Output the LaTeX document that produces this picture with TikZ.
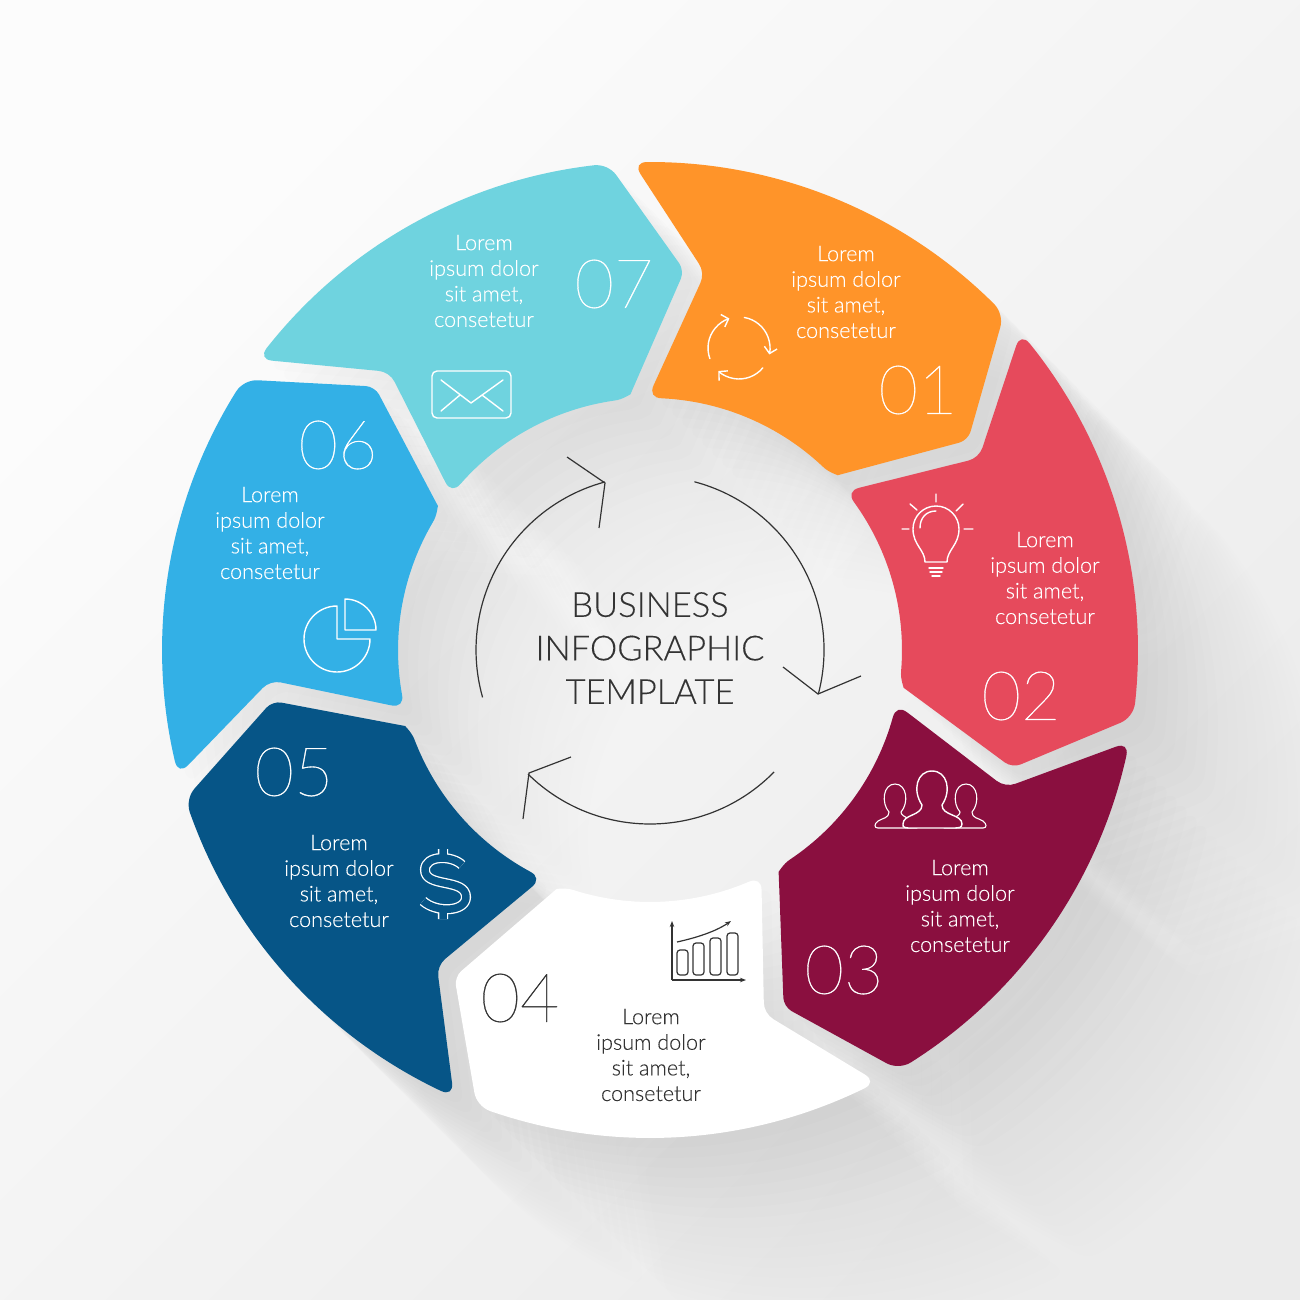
\documentclass[tikz,border=0pt]{standalone}
\usepackage{fontspec}
\usepackage{xcolor}
\usetikzlibrary{positioning}
\usetikzlibrary{arrows.meta}
\setmainfont[FakeBold=0.2]{Lato Light}
\newfontfamily\hairfont[FakeBold=0.5]{Lato Thin}
\definecolor{segA}{HTML}{FF9429}
\definecolor{segB}{HTML}{E64A5C}
\definecolor{segC}{HTML}{8A0F3F}
\definecolor{segD}{HTML}{FFFFFF}
\definecolor{segE}{HTML}{065587}
\definecolor{segF}{HTML}{33B0E6}
\definecolor{segG}{HTML}{6FD3DF}
\definecolor{inkdark}{HTML}{333333}
\tikzset{
	lorem/.style={align=center, font=\fontsize{21.6}{25.6}\selectfont},
	number/.style={font=\hairfont\fontsize{68}{68}\selectfont},
	title/.style={align=center, text=inkdark, font=\fontsize{34.5}{43.5}\selectfont},
	icon/.style={line width=1.4pt, line join=round, line cap=round},
	loopline/.style={inkdark, line width=1.2pt},
}
\newcommand{\segpath}{(22.75,-426.45) -- (-9.5,-475.9) .. controls (-14,-483) and (-11.4,-487.8) .. (-90.35:488) arc[start angle=-90.35, end angle=-45.15, radius=488] .. controls (350,-339.9) and (352.5,-330.5) .. (350.2,-322.4) [rounded corners=9pt] -- (-33.4:381) -- (196.3,-177.1) [sharp corners] .. controls (188.2,-174.9) and (178.8,-177.4) .. (-46.68:252) arc[start angle=-46.68, end angle=-87.32, radius=252] .. controls (3.4,-251.9) and (0.1,-257.1) .. (3.6,-264.7) -- (50.4,-367) .. controls (53.2,-373) and (52.6,-380.7) .. (49,-386.2) -- cycle}
\begin{document}
\begin{tikzpicture}[x=1pt, y=-1pt]
	\useasboundingbox (0,0) rectangle (1300,1300);
	\shade[top color=white!99!black, bottom color=white!92!black, shading angle=45] (0,0) rectangle (1300,1300);
	% long shadow
	\foreach \i in {0,...,6} {
		\foreach \t in {10,20,...,230} {
			\pgfmathsetmacro{\op}{0.009*(1-\t/245)}
			\begin{scope}[shift={(650+\t,650+\t)}, rotate=-\i*51.43]
				\fill[black, opacity=\op] \segpath;
			\end{scope}
		}
	}
	% ring
	\foreach \i/\col in {0/segA,1/segB,2/segC,3/segD,4/segE,5/segF,6/segG} {
		\begin{scope}[shift={(650,650)}, rotate=-\i*51.43]
			\fill[\col] \segpath;
		\end{scope}
	}
	% texts
	\foreach \n/\tx/\ty/\nx/\ny/\lab/\tc in {1/846/292/918/390/01/white, 2/1045/578/1021/696/02/white, 3/960/906/844/970/03/white, 4/651/1055/520/998/04/inkdark, 5/339/881/294/772/05/white, 6/270/533/338/445/06/white, 7/484/281/614/284/07/white} {
		\node[lorem, text=\tc] (text\n) at (\tx,\ty) {Lorem\\ipsum dolor\\sit amet,\\consetetur};
		\node[number, text=\tc] (num\n) at (\nx,\ny) {\lab};
	}
	\node[title] (title) at (650,648) {BUSINESS\\INFOGRAPHIC\\TEMPLATE};
	% loop arrows
	\draw[loopline] (650,650) ++(164.2:174) arc[start angle=164.2, end angle=255, radius=174];
	\draw[loopline] (650,650) ++(-75.2:174) arc[start angle=-75.2, end angle=14.7, radius=174];
	\draw[loopline] (650,650) ++(44.5:174) arc[start angle=44.5, end angle=134.5, radius=174];
	\draw[loopline] (567,457) -- (605,483) -- (599,528);
	\draw[loopline] (783,667) -- (818,694) -- (861,676);
	\draw[loopline] (571,757) -- (529,773) -- (523,819);
	% icon 01
	\foreach \r in {0,120,240} {
		\begin{scope}[shift={(739,348)}, rotate=-\r]
			\draw[icon, white, -{Straight Barb[length=6pt,width=13pt]}] (-80:31) arc[start angle=-80, end angle=12, radius=31];
		\end{scope}
	}
	% icon 02
	\draw[icon, white] (925,562) .. controls (925,550) and (913,545) .. (913,529) arc[start angle=180, end angle=360, radius=23] .. controls (959,545) and (947,550) .. (947,562) -- cycle;
	\draw[icon, white] (920,528) .. controls (920,518) and (926,511) .. (936,511);
	\draw[icon, white] (929,568) -- (943,568) (930,572) -- (942,572) (932,576) -- (940,576);
	\draw[icon, white] (936,494) -- (936,502) (902,529) -- (909,529) (964,529) -- (973,529) (910,504) -- (917,510) (963,504) -- (956,511);
	% icon 03
	\foreach \px/\w in {895/1,966/-1} {
		\begin{scope}[shift={(\px,798)}, xscale=\w]
			\draw[icon, white, line width=1.1pt] (-6,14) .. controls (-14,5) and (-12,-14) .. (0,-14) .. controls (12,-14) and (14,5) .. (6,14) .. controls (6,20) and (20,20) .. (22,30) -- (-17,30) .. controls (-21,30) and (-21,26) .. (-17,23) .. controls (-12,20) and (-6,20) .. (-6,14) -- cycle;
		\end{scope}
	}
	\draw[icon, white, fill=segC] (922,805) .. controls (912,790) and (917,771) .. (932,771) .. controls (947,771) and (952,790) .. (942,805) .. controls (942,816) and (962,814) .. (962,824) .. controls (962,828) and (958,828) .. (955,828) -- (912,828) .. controls (906,828) and (902,828) .. (903,824) .. controls (903,814) and (922,816) .. (922,805) -- cycle;
	% icon 04
	\draw[inkdark, line width=1.2pt, -{Stealth[length=6pt]}] (672,980) -- (672,921);
	\draw[inkdark, line width=1.2pt, -{Stealth[length=6pt]}] (672,980) -- (746,980);
	\draw[inkdark, line width=1.2pt, -{Stealth[length=6pt]}] (677,942) .. controls (695,938) and (715,932) .. (731,921);
	\foreach \bx/\by in {677/950, 693/943, 710/938, 727/933} {
		\draw[inkdark, line width=1.2pt, rounded corners=3pt] (\bx,\by) rectangle (\bx+11,975);
	}
	% icon 05
	\draw[white, line width=1.3pt, double=segE, double distance=7.5pt, line join=round] (443,849) -- (443,860) (443,908) -- (443,919) (462,865) .. controls (452,855) and (425,855) .. (425,870) .. controls (425,888) and (466,878) .. (466,897) .. controls (466,912) and (436,913) .. (423,901);
	% icon 06
	\draw[icon, white] (337,639) -- (337,606) arc[start angle=-90, end angle=-360, radius=33] -- cycle;
	\draw[icon, white] (345,630) -- (345,599) arc[start angle=-90, end angle=0, radius=31] -- cycle;
	% icon 07
	\draw[icon, white, rounded corners=5pt] (432,371) rectangle (511,418);
	\draw[icon, white] (441,380) -- (471,403) -- (503,380) (441,411) -- (460,395) (503,411) -- (482,395);
\end{tikzpicture}
\end{document}
